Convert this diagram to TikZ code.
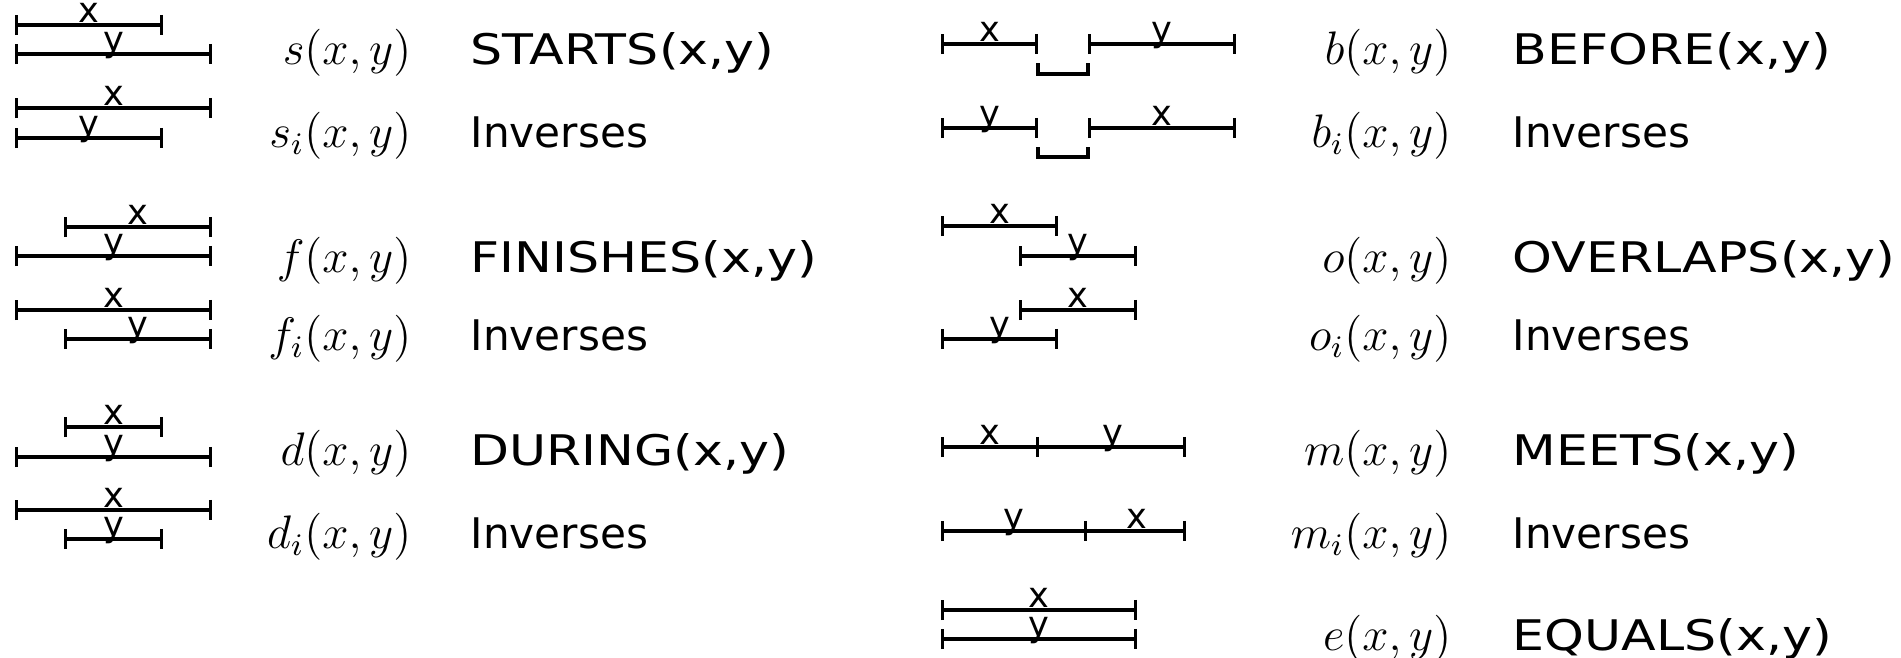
\documentclass[tikz,border=0pt]{standalone}
\usepackage{amsmath}
\usepackage{fontspec}
\newfontfamily\relfont{DejaVu Sans}
\newfontfamily\relcapsfont[FakeStretch=1.2]{DejaVu Sans}
\usepackage{tikz}
\usetikzlibrary{arrows.meta}

\tikzset{
	ival/.style={line width=0.9pt, {Bar[width=5.7pt]}-{Bar[width=5.7pt]}},
	ivalr/.style={line width=0.9pt, -{Bar[width=5.7pt]}},
	lbl/.style={font=\relfont\fontsize{10}{12}\selectfont, inner sep=0pt, anchor=base, yshift=0.6pt},
	relsym/.style={font=\fontsize{12}{14}\selectfont, scale=1.115, inner sep=0pt, anchor=base east},
	relname/.style={font=\relcapsfont\fontsize{12}{14}\selectfont, inner sep=0pt, anchor=base west},
	inv/.style={font=\relfont\fontsize{12}{14}\selectfont, inner sep=0pt, anchor=base west}
}

\begin{document}
\begin{tikzpicture}
				\useasboundingbox (0,0) rectangle (19.01,-6.58);
				
				% left column: end points of the intervals
				\coordinate (sx1) at (0.15,-0.25);  \coordinate (sx2) at (1.63,-0.25);
				\coordinate (sy1) at (0.15,-0.54);  \coordinate (sy2) at (2.12,-0.54);
				\coordinate (six1) at (0.15,-1.08); \coordinate (six2) at (2.12,-1.08);
				\coordinate (siy1) at (0.15,-1.38); \coordinate (siy2) at (1.63,-1.38);
				\coordinate (fx1) at (0.64,-2.27);  \coordinate (fx2) at (2.12,-2.27);
				\coordinate (fy1) at (0.15,-2.56);  \coordinate (fy2) at (2.12,-2.56);
				\coordinate (fix1) at (0.15,-3.10); \coordinate (fix2) at (2.12,-3.10);
				\coordinate (fiy1) at (0.64,-3.39); \coordinate (fiy2) at (2.12,-3.39);
				\coordinate (dx1) at (0.64,-4.27);  \coordinate (dx2) at (1.63,-4.27);
				\coordinate (dy1) at (0.15,-4.57);  \coordinate (dy2) at (2.12,-4.57);
				\coordinate (dix1) at (0.15,-5.10); \coordinate (dix2) at (2.12,-5.10);
				\coordinate (diy1) at (0.64,-5.39); \coordinate (diy2) at (1.63,-5.39);
				
				% right column
				\coordinate (bx1) at (9.41,-0.44);  \coordinate (bx2) at (10.38,-0.44);
				\coordinate (by1) at (10.88,-0.44); \coordinate (by2) at (12.36,-0.44);
				\coordinate (bg1) at (10.38,-0.63); \coordinate (bg2) at (10.88,-0.63);
				\coordinate (biy1) at (9.41,-1.28);  \coordinate (biy2) at (10.38,-1.28);
				\coordinate (bix1) at (10.88,-1.28); \coordinate (bix2) at (12.36,-1.28);
				\coordinate (big1) at (10.38,-1.47); \coordinate (big2) at (10.88,-1.47);
				\coordinate (ox1) at (9.41,-2.26);  \coordinate (ox2) at (10.58,-2.26);
				\coordinate (oy1) at (10.19,-2.56); \coordinate (oy2) at (11.37,-2.56);
				\coordinate (oix1) at (10.19,-3.10); \coordinate (oix2) at (11.37,-3.10);
				\coordinate (oiy1) at (9.41,-3.39);  \coordinate (oiy2) at (10.58,-3.39);
				\coordinate (m1) at (9.41,-4.47);  \coordinate (m2) at (10.39,-4.47); \coordinate (m3) at (11.86,-4.47);
				\coordinate (mi1) at (9.41,-5.31); \coordinate (mi2) at (10.87,-5.31); \coordinate (mi3) at (11.86,-5.31);
				\coordinate (ex1) at (9.41,-6.10); \coordinate (ex2) at (11.37,-6.10);
				\coordinate (ey1) at (9.41,-6.39); \coordinate (ey2) at (11.37,-6.39);
				
				\draw[ival] (sx1) -- (sx2) node[midway,lbl] () {x};
				\draw[ival] (sy1) -- (sy2) node[midway,lbl] () {y};
				\draw[ival] (six1) -- (six2) node[midway,lbl] () {x};
				\draw[ival] (siy1) -- (siy2) node[midway,lbl] () {y};
				\draw[ival] (fx1) -- (fx2) node[midway,lbl] () {x};
				\draw[ival] (fy1) -- (fy2) node[midway,lbl] () {y};
				\draw[ival] (fix1) -- (fix2) node[midway,lbl] () {x};
				\draw[ival] (fiy1) -- (fiy2) node[midway,lbl] () {y};
				\draw[ival] (dx1) -- (dx2) node[midway,lbl] () {x};
				\draw[ival] (dy1) -- (dy2) node[midway,lbl] () {y};
				\draw[ival] (dix1) -- (dix2) node[midway,lbl] () {x};
				\draw[ival] (diy1) -- (diy2) node[midway,lbl] () {y};
				
				\draw[ival] (bx1) -- (bx2) node[midway,lbl] () {x};
				\draw[ival] (by1) -- (by2) node[midway,lbl] () {y};
				\draw[line width=0.9pt] (bg1) -- ++(0,-0.11) -| (bg2);
				\draw[ival] (biy1) -- (biy2) node[midway,lbl] () {y};
				\draw[ival] (bix1) -- (bix2) node[midway,lbl] () {x};
				\draw[line width=0.9pt] (big1) -- ++(0,-0.10) -| (big2);
				\draw[ival] (ox1) -- (ox2) node[midway,lbl] () {x};
				\draw[ival] (oy1) -- (oy2) node[midway,lbl] () {y};
				\draw[ival] (oix1) -- (oix2) node[midway,lbl] () {x};
				\draw[ival] (oiy1) -- (oiy2) node[midway,lbl] () {y};
				\draw[ival] (m1) -- (m2) node[midway,lbl] () {x};
				\draw[ivalr] (m2) -- (m3) node[midway,lbl] () {y};
				\draw[ival] (mi1) -- (mi2) node[midway,lbl] () {y};
				\draw[ivalr] (mi2) -- (mi3) node[midway,lbl] () {x};
				\draw[ival] (ex1) -- (ex2) node[midway,lbl] () {x};
				\draw[ival] (ey1) -- (ey2) node[midway,lbl] () {y};
				
				% relation names
				\node[relsym] (S) at (4.12,-0.64) {$s(x,y)$};
				\node[relsym] (Si) at (4.12,-1.47) {$s_i(x,y)$};
				\node[relsym] (F) at (4.12,-2.72) {$f(x,y)$};
				\node[relsym] (Fi) at (4.12,-3.50) {$f_i(x,y)$};
				\node[relsym] (D) at (4.12,-4.65) {$d(x,y)$};
				\node[relsym] (Di) at (4.12,-5.48) {$d_i(x,y)$};
				\node[relname] (Sn) at (4.70,-0.64) {STARTS(x,y)};
				\node[inv] (Sin) at (4.70,-1.47) {Inverses};
				\node[relname] (Fn) at (4.70,-2.72) {FINISHES(x,y)};
				\node[inv] (Fin) at (4.70,-3.50) {Inverses};
				\node[relname] (Dn) at (4.70,-4.65) {DURING(x,y)};
				\node[inv] (Din) at (4.70,-5.48) {Inverses};
				
				\node[relsym] (B) at (14.52,-0.64) {$b(x,y)$};
				\node[relsym] (Bi) at (14.52,-1.47) {$b_i(x,y)$};
				\node[relsym] (O) at (14.52,-2.72) {$o(x,y)$};
				\node[relsym] (Oi) at (14.52,-3.50) {$o_i(x,y)$};
				\node[relsym] (M) at (14.52,-4.65) {$m(x,y)$};
				\node[relsym] (Mi) at (14.52,-5.48) {$m_i(x,y)$};
				\node[relsym] (E) at (14.52,-6.50) {$e(x,y)$};
				\node[relname] (Bn) at (15.12,-0.64) {BEFORE(x,y)};
				\node[inv] (Bin) at (15.12,-1.47) {Inverses};
				\node[relname] (On) at (15.12,-2.72) {OVERLAPS(x,y)};
				\node[inv] (Oin) at (15.12,-3.50) {Inverses};
				\node[relname] (Mn) at (15.12,-4.65) {MEETS(x,y)};
				\node[inv] (Min) at (15.12,-5.48) {Inverses};
				\node[relname] (En) at (15.12,-6.50) {EQUALS(x,y)};
			\end{tikzpicture}
\end{document}
